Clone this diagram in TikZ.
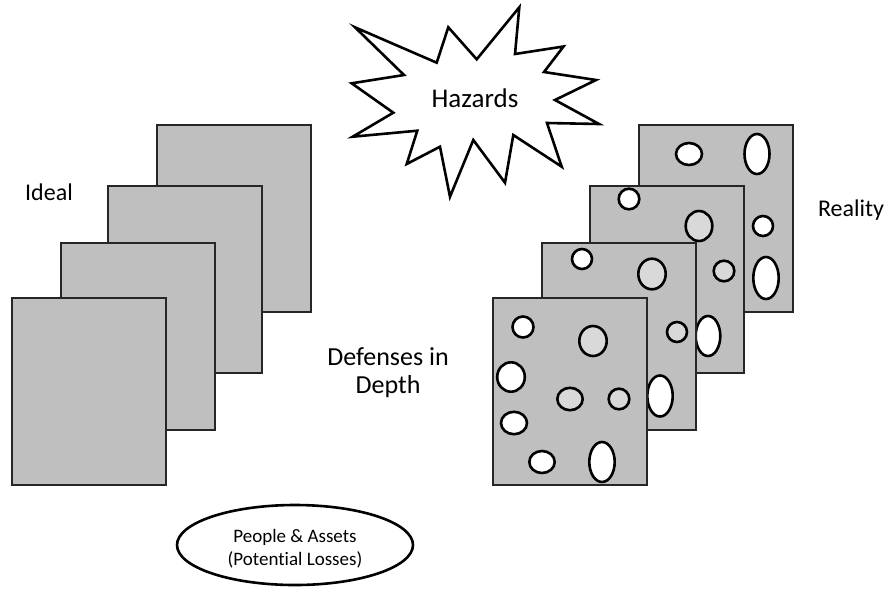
\documentclass[tikz,border=0pt]{standalone}
\usepackage{fontspec}
\setmainfont[Ligatures={NoCommon,NoRare,NoContextual}]{Carlito}
\definecolor{panelgray}{HTML}{BFBFBF}
\definecolor{holegray}{HTML}{D9D9D9}
\definecolor{edgegray}{HTML}{262626}
\tikzset{
  panel/.style={fill=panelgray, draw=edgegray, line width=1.5pt},
  hole/.style={fill=white, draw=black, line width=2.6pt},
  greyhole/.style={fill=holegray, draw=black, line width=2.6pt},
  label/.style={inner sep=0pt, anchor=base},
}
\newcommand{\panelbox}[2]{\path[panel] (#1,#2) rectangle ++(154,187);}
\newcommand{\holeat}[5]{\path[#1] (#2,#3) ellipse [x radius=#4pt, y radius=#5pt];}
\begin{document}
\begin{tikzpicture}[x=1pt,y=-1pt]
\useasboundingbox (0,0) rectangle (891,590);
\fill[white] (0,0) rectangle (891,590);

% starburst
\draw[line width=2.6pt, line join=miter, miter limit=20, fill=white]
 (355,27.3) -- (436.7,62.7) -- (448.3,27.3) -- (476.7,59.3) -- (519.3,7.3) -- (515,54)
 -- (563.5,46.5) -- (544,72) -- (596,80) -- (555,100) -- (599,124) -- (547,123)
 -- (561.7,166.7) -- (513.3,135) -- (505,182.7) -- (473.3,140) -- (450,196.7)
 -- (440,146.7) -- (406.7,164) -- (417.3,130.7) -- (352.7,136.7) -- (393.3,112.7)
 -- (351.7,83.3) -- (404,75) -- cycle;
\node[label, font=\fontsize{27}{30}\selectfont] (hazards) at (475,107) {Hazards};

% ideal panels
\panelbox{157}{125}
\panelbox{108}{186}
\panelbox{61}{243}
\panelbox{12}{298}
\node[label, font=\fontsize{24}{28}\selectfont] (ideal) at (49,200.7) {Ideal};

% reality panels
\panelbox{639}{125}
\holeat{hole}{689}{154}{13}{11}
\holeat{hole}{757}{154}{12.5}{20}
\holeat{hole}{763}{226}{10}{10}
\holeat{hole}{766}{278}{12.7}{21}

\panelbox{590}{186}
\holeat{hole}{629}{199}{10.3}{10.3}
\holeat{greyhole}{699}{226}{13.3}{15}
\holeat{greyhole}{724}{271}{10.3}{10.3}
\holeat{hole}{708}{336}{12.3}{20}

\panelbox{542}{243}
\holeat{hole}{582}{259}{10}{10}
\holeat{greyhole}{652}{274}{13.7}{15.3}
\holeat{greyhole}{677}{332}{10}{10}
\holeat{hole}{660}{396}{12.7}{20.5}

\panelbox{493}{298}
\holeat{hole}{523}{327}{10.5}{10.5}
\holeat{greyhole}{593}{341}{13.7}{15}
\holeat{hole}{511}{377}{13.8}{14.7}
\holeat{greyhole}{570}{399}{12.7}{11.2}
\holeat{greyhole}{619}{399}{10.3}{10.3}
\holeat{hole}{514}{423}{13}{11.2}
\holeat{hole}{542}{462}{12.7}{11}
\holeat{hole}{602}{462}{12.7}{20}
\node[label, font=\fontsize{24}{28}\selectfont] (reality) at (851,216) {Reality};

% center text
\node[label, align=center, font=\fontsize{26}{28}\selectfont] (defenses) at (388,393) {Defenses in\\Depth};

% people ellipse
\draw[line width=2.6pt] (295,545) ellipse [x radius=118pt, y radius=40pt];
\node[label, align=center, font=\fontsize{19}{23}\selectfont] (people) at (295,565) {People \& Assets\\(Potential Losses)};
\end{tikzpicture}
\end{document}
